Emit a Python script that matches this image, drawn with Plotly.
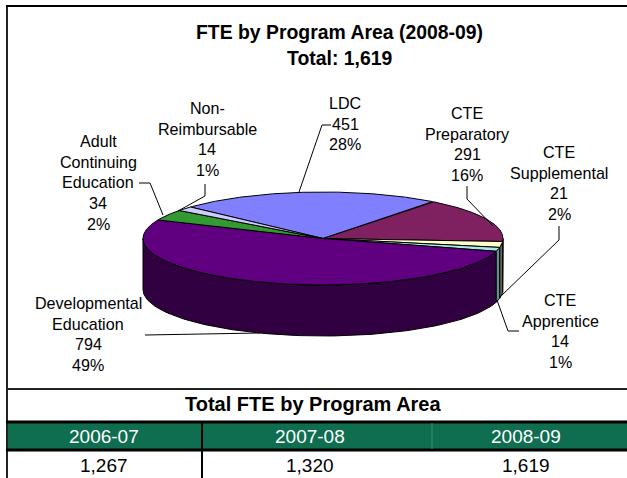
import numpy as np
import plotly.graph_objects as go

# ---- data ----
programs = ["LDC", "CTE Preparatory", "CTE Supplemental", "CTE Apprentice",
            "Developmental Education", "Adult Continuing Education", "Non-Reimbursable"]
fte = [451, 291, 21, 14, 794, 34, 14]
shown_pct = ["28%", "16%", "2%", "1%", "49%", "2%", "1%"]
label_names = [["LDC"], ["CTE", "Preparatory"], ["CTE", "Supplemental"], ["CTE", "Apprentice"],
               ["Developmental", "Education"], ["Adult", "Continuing", "Education"],
               ["Non-", "Reimbursable"]]
years = ["2006-07", "2007-08", "2008-09"]
totals = ["1,267", "1,320", "1,619"]

# ---- style / layout ----
W, H = 627, 478
top_col = ["#8080ff", "#7f2060", "#ffffcc", "#a8e8e8", "#600080", "#339933", "#ccccff"]
side_col = ["#404080", "#401030", "#666650", "#5f8f8f", "#300040", "#1a4d1a", "#666680"]
cx, cy, rx, ry, depth = 323, 238.5, 180, 46.5, 51
# perspective warp: true pie angle -> drawn ellipse angle (degrees clockwise from top)
warp_true = [0, 100.3, 165, 172.8, 349.4, 360]
warp_draw = [-47.4, 37.5, 93.7, 106, 293.6, 312.6]
label_pos = [(345, 103), (467, 113), (559, 152), (560, 300), (88, 303), (98, 141), (207, 108)]
leaders = [
    [(299, 192), (322, 125), (331, 125)],
    [(467, 186), (467, 199), (493, 226)],
    [(500, 297), (559, 240), (559, 226)],
    [(497, 300), (508, 331), (519, 331)],
    [(145, 335), (260, 333)],
    [(163, 215), (150, 183), (139, 183)],
    [(178, 211), (205, 196), (205, 184)],
]
LINE = 20.7
FONT = "Liberation Sans, Arial, sans-serif"

shares = np.cumsum([0] + fte) / sum(fte) * 360
bounds = np.interp(shares, warp_true, warp_draw)


def pt(phi, dy=0):
    r = np.radians(phi)
    return cx + rx * np.sin(r), cy - ry * np.cos(r) + dy


fig = go.Figure()


def poly(xs, ys, color):
    fig.add_trace(go.Scatter(x=xs, y=ys, mode="lines", fill="toself", fillcolor=color,
                             line=dict(color="black", width=1), hoverinfo="skip", showlegend=False))


# side walls (front half of the rim only)
for i in range(len(fte)):
    a, b = max(bounds[i], 90), min(bounds[i + 1], 270)
    if b <= a:
        continue
    ph = np.linspace(a, b, 120)
    x1, y1 = pt(ph)
    x2, y2 = pt(ph[::-1], depth)
    poly(np.r_[x1, x2, x1[0]], np.r_[y1, y2, y1[0]], side_col[i])

# top wedges
for i in range(len(fte)):
    ph = np.linspace(bounds[i], bounds[i + 1], max(int(bounds[i + 1] - bounds[i]) * 2, 8))
    x1, y1 = pt(ph)
    poly(np.r_[cx, x1, cx], np.r_[cy, y1, cy], top_col[i])

# leader lines
shapes = []
for path in leaders:
    for (x0, y0), (x1, y1) in zip(path[:-1], path[1:]):
        shapes.append(dict(type="line", x0=x0, y0=y0, x1=x1, y1=y1, line=dict(color="black", width=1)))

# frame and table
shapes += [
    dict(type="rect", x0=6, x1=W + 5, y0=422, y1=450, fillcolor="#0f6e4f", line=dict(width=0), layer="below"),
    dict(type="line", x0=7, x1=7, y0=6, y1=H, line=dict(color="#222", width=2)),
    dict(type="line", x0=6, x1=W, y0=6, y1=6, line=dict(color="black", width=2)),
    dict(type="line", x0=6, x1=W, y0=389, y1=389, line=dict(color="#222", width=2)),
    dict(type="line", x0=6, x1=W, y0=422, y1=422, line=dict(color="black", width=3)),
    dict(type="line", x0=6, x1=W, y0=450, y1=450, line=dict(color="black", width=3)),
    dict(type="line", x0=202, x1=202, y0=422, y1=H, line=dict(color="black", width=2)),
    dict(type="line", x0=432, x1=432, y0=423, y1=449, line=dict(color="#3f8a70", width=1)),
]

annots = []


def text(x, y, s, size=16.1, color="black", bold=False):
    annots.append(dict(x=x, y=y, text=f"<b>{s}</b>" if bold else s, showarrow=False, xanchor="center",
                       yanchor="middle", font=dict(family=FONT, size=size, color=color)))


for (x, y), names, v, p in zip(label_pos, label_names, fte, shown_pct):
    for k, line in enumerate(names + [f"{v}", p]):
        text(x, y + k * LINE, line)

text(339, 32, "FTE by Program Area (2008-09)", size=19.4, bold=True)
text(339, 58, "Total: " + totals[2], size=19.4, bold=True)
text(313, 404, "Total FTE by Program Area", size=20, bold=True)
for xc, yr, tot in zip([104, 310, 526], years, totals):
    text(xc, 436, yr, size=19, color="white")
    text(xc, 465, tot, size=19)

fig.update_layout(
    width=W, height=H, margin=dict(l=0, r=0, t=0, b=0), paper_bgcolor="white", plot_bgcolor="white",
    xaxis=dict(range=[0, W], visible=False, fixedrange=True),
    yaxis=dict(range=[H, 0], visible=False, fixedrange=True),
    shapes=shapes, annotations=annots, showlegend=False,
)
fig.write_html("out.html", config=dict(displayModeBar=False),
               post_script="document.body.style.margin='0';document.documentElement.style.overflow='hidden';")
